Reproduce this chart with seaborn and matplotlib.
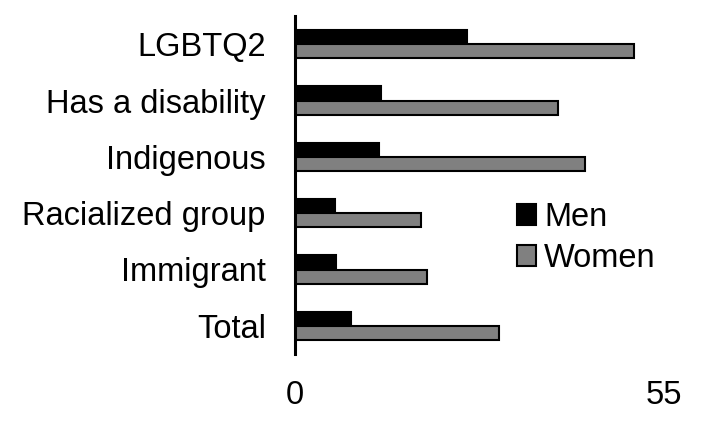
import matplotlib
matplotlib.use("Agg")
import matplotlib.pyplot as plt
import seaborn as sns
import pandas as pd

categories = ["LGBTQ2", "Has a disability", "Indigenous", "Racialized group", "Immigrant", "Total"]
men = [25.6, 12.8, 12.5, 6.0, 6.1, 8.3]
women = [50.5, 39.2, 43.2, 18.8, 19.7, 30.4]
series = ["Men", "Women"]
xticks = [0, 55]

df = pd.DataFrame({
    "category": categories * 2,
    "value": men + women,
    "series": ["Men"] * len(categories) + ["Women"] * len(categories),
})

sns.set_theme(style="white")
plt.rcParams["font.family"] = ["Liberation Sans", "DejaVu Sans"]
plt.rcParams["text.color"] = "black"

fig = plt.figure(figsize=(7.09, 4.38), dpi=100)
ax = fig.add_axes([295 / 709, 1 - 354 / 438, 369 / 709, 338 / 438])

sns.barplot(data=df, y="category", x="value", hue="series", order=categories,
            hue_order=series, palette={"Men": "black", "Women": "#808080"},
            width=0.5, gap=0, edgecolor="black", linewidth=1.5, ax=ax, legend=True)

ax.set_xlim(0, 55)
ax.set_ylim(5.5, -0.5)
ax.set_xticks(xticks)
ax.set_xticklabels([str(t) for t in xticks])
ax.set_xlabel("")
ax.set_ylabel("")
for s in ["top", "right", "bottom"]:
    ax.spines[s].set_visible(False)
ax.spines["left"].set_linewidth(2.2)
ax.spines["left"].set_color("black")
ax.tick_params(axis="y", length=0, pad=21, labelsize=23.5, labelcolor="black")
ax.tick_params(axis="x", length=0, pad=19, labelsize=23.5, labelcolor="black")

handles, labels = ax.get_legend_handles_labels()
leg = ax.legend(handles, labels, loc="center left", bbox_to_anchor=(517 / 709, 1 - 238 / 438),
                bbox_transform=fig.transFigure, frameon=False, fontsize=23.5,
                handlelength=0.58, handleheight=0.58, handletextpad=0.25,
                labelspacing=0.3, borderpad=0, borderaxespad=0)
for t in leg.get_texts():
    t.set_color("black")

fig.savefig("out.png", dpi=100)
